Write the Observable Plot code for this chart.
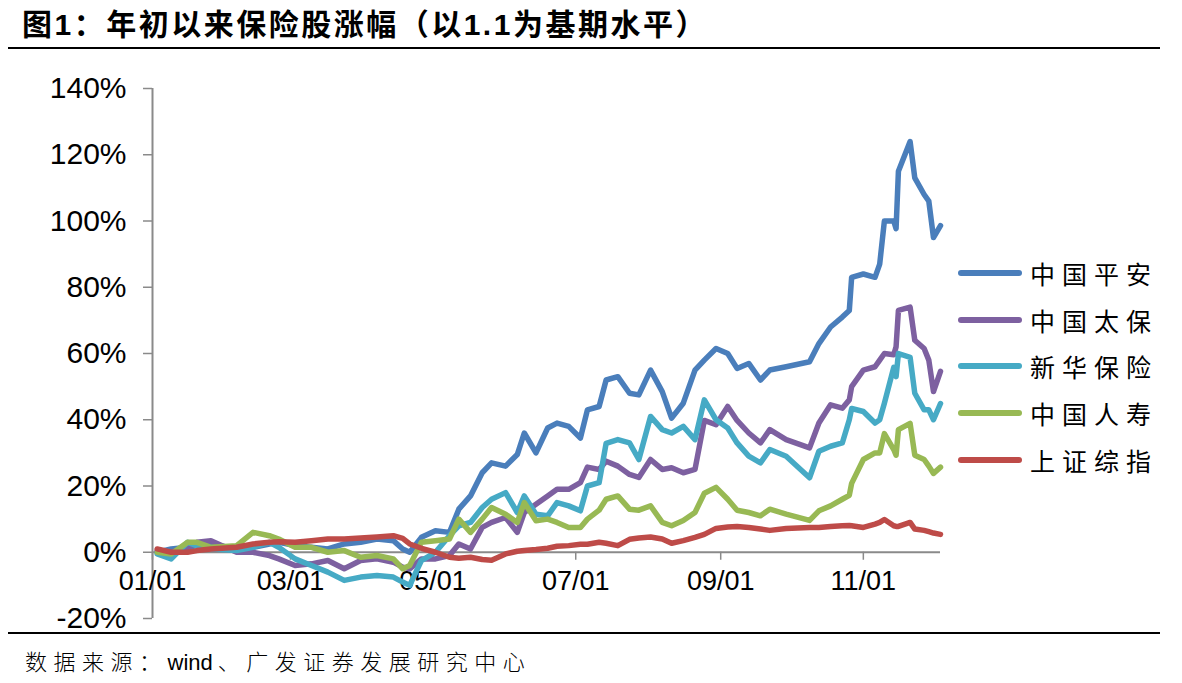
<!DOCTYPE html>
<html><head><meta charset="utf-8">
<script src="https://cdn.jsdelivr.net/npm/d3@7"></script>
<script src="https://cdn.jsdelivr.net/npm/@observablehq/plot@0.6"></script>
<style>
body{margin:0;background:#fff;width:1182px;height:683px;overflow:hidden;position:relative;font-family:"Liberation Sans","Noto Sans CJK SC",sans-serif;color:#000;}
#title{position:absolute;left:22px;top:10px;font-size:30px;line-height:30px;font-weight:bold;letter-spacing:2.5px;white-space:nowrap;}
.hr{position:absolute;left:8px;width:1152px;height:2px;background:#000;}
#chart{position:absolute;left:0;top:50px;}
#caption{position:absolute;left:25px;top:649px;font-size:22px;line-height:22px;letter-spacing:6.5px;white-space:nowrap;font-family:"Noto Sans CJK SC",sans-serif;font-weight:300;}
#caption .lat{font-family:"Liberation Sans";letter-spacing:0;margin-right:5px;font-weight:normal;}
.lg{position:absolute;left:958px;height:30px;display:flex;align-items:center;}
.lg .sw{width:64px;height:6px;border-radius:3px;}
.lg .tx{margin-left:8px;font-size:25px;letter-spacing:7px;font-family:"Noto Sans CJK SC",sans-serif;line-height:30px;}
</style></head>
<body>
<div id="title">图1：年初以来保险股涨幅（以1.1为基期水平）</div>
<div class="hr" style="top:47px"></div>
<div id="chart"></div>
<div class="hr" style="top:632px"></div>
<div id="caption">数据来源：<span class="lat">wind</span>、广发证券发展研究中心</div>
<div id="legend"></div>
<script>
const dates = ["01-03","01-09","01-16","01-20","01-26","02-06","02-13","02-20","02-24","03-03",
"03-10","03-17","03-24","03-31","04-07","04-14","04-18","04-21","04-26","05-02",
"05-08","05-12","05-17","05-22","05-26","06-01","06-06","06-09","06-14","06-19",
"06-23","06-28","07-03","07-06","07-11","07-14","07-19","07-24","07-28","08-02",
"08-07","08-11","08-16","08-21","08-25","08-30","09-04","09-08","09-13","09-18",
"09-22","09-29","10-09","10-13","10-18","10-23","10-26","10-27","11-01","11-06",
"11-08","11-10","11-14","11-15","11-16","11-21","11-23","11-27","11-29","12-01","12-04"];
const year = 2017;

const pingan = [0,1,1.5,2,2.5,1,1.5,2.5,3,2,
1.5,1,2.5,3,4,3.5,1,0,4.5,6.5,
6,13,17,24,27,26,29.5,36,30,37.5,
39,38,34.5,43,44,52,53,48,47.5,55,
48.5,40.5,45,55,58,61.5,60,55.5,57,52,
55,56,57.5,63,68,71,73,83,84,83,
87,100,100,97.7,115,124,113,108,106,95,98.6];
const taibao = [0.5,0,1.5,3,3.5,0,0,-1,-2,-4,
-3.5,-2.5,-5,-2.5,-2,-3,-4.5,-5,-2,-2,
-1,2.5,1,7.5,9,10.5,6,12,14.5,17,
19,19,21,25.7,25,27.5,26,23.5,22.6,28,
25,25.5,24,25,39.8,38.5,44,39.8,36,33,
37,34,31.5,39,44.5,43.5,46,50,55,56,
58,60,59.6,62,73,74,64,61.5,58,48.5,54.6];
const xinhua = [-0.5,-2,3,2,1,0.5,1.5,3,1.5,-2,
-4,-6,-8.5,-7.5,-7,-7.5,-9,-10,-2.5,0,
5,8,9,13.5,16,18,12,17,11.5,11,
15,14,12.5,20,21,32.9,34,33,28,41,
37,36,38,34,46,40,37.5,33,29,27,
31,29,22.5,30.5,32,33,40,43.4,42.5,39,
40,45,55.8,53,60,58.8,48,43,43,40,44.9];
const renshou = [0,-0.5,3,3,1.5,2,6,5,4,1.5,
1.5,0,0.5,-1.5,-1,-2,-5,-4,3,3.5,
4,10,6,10,13.5,11.5,9,15,9.5,10,
9,7.5,7.5,10,12.7,16,17,13,12.7,14,
9,8,9.6,12,17.8,19.6,16,12.7,12,11,
13,11.5,9.6,12.5,14,16,17.2,20.8,28,30,
30,35.8,31,29.3,37,38.9,29.3,28,26,23.8,25.7];
const shindex = [1,0,0,0.5,1,1.5,2.5,3,3.2,3,
3.5,4,4,4.3,4.6,5,4.2,2.5,1.2,0,
-1.5,-1.8,-1.5,-2.2,-2.4,-0.5,0.3,0.5,0.8,1.2,
1.8,2,2.4,2.4,3,2.7,2,3.9,4.3,4.6,
4,2.7,3.5,4.5,5.4,7.2,7.6,7.8,7.5,7,
6.6,7.2,7.5,7.5,7.8,8,8.1,8,7.5,8.5,
9,9.9,8,7.8,7.8,9,7,6.6,6.2,5.8,5.4];

const seriesNames = ["中国平安","中国太保","新华保险","中国人寿","上证综指"];
const seriesValues = [pingan, taibao, xinhua, renshou, shindex];
const seriesColors = ["#4A7EBB","#7D60A0","#46AAC5","#98B954","#BE4B48"];
const yTicks = [-20,0,20,40,60,80,100,120,140];
const xTickLabels = ["01/01","03/01","05/01","07/01","09/01","11/01"];
const xDomain = ["2017-01-01","2017-12-04"];

const parse = s => new Date(`${year}-${s}T00:00:00Z`);
const rows = [];
seriesNames.forEach((name, k) => {
  seriesValues[k].forEach((v, i) => rows.push({series: name, date: parse(dates[i]), value: v}));
});
const xTicks = xTickLabels.map(s => parse(s.replace("/", "-")));

const W = 1182, H = 600, mt = 38, mb = 32, ml = 152, mr = 242;
const yS = Plot.scale({y: {domain: [-20, 140], range: [H - mb, mt]}});
const tickEnd = yS.invert(yS.apply(0) + 8);
const gray = "#8a8a8a";

const chart = Plot.plot({
  width: W, height: H,
  marginTop: mt, marginBottom: mb, marginLeft: ml, marginRight: mr,
  style: {fontFamily: "Liberation Sans, Arial, sans-serif", color: "#000", background: "transparent"},
  x: {type: "utc", domain: xDomain.map(s => new Date(s + "T00:00:00Z")), axis: null},
  y: {domain: [-20, 140], axis: null},
  color: {domain: seriesNames, range: seriesColors},
  marks: [
    Plot.axisY({ticks: yTicks, tickSize: 9, tickPadding: 17, fontSize: 30, stroke: gray, strokeWidth: 1.5, tickFormat: d => d + "%", label: null}),
    Plot.ruleX([new Date(xDomain[0] + "T00:00:00Z")], {stroke: gray, strokeWidth: 2}),
    Plot.ruleY([0], {stroke: gray, strokeWidth: 2}),
    Plot.ruleX(xTicks, {x: d => d, y1: 0, y2: tickEnd, stroke: gray, strokeWidth: 1.5}),
    Plot.text(xTicks, {x: d => d, y: () => 0, dy: 29, text: (d, i) => xTickLabels[i], fontSize: 27, fill: "#000"}),
    Plot.line(rows, {x: "date", y: "value", z: "series", stroke: "series", strokeWidth: 5.5, strokeLinejoin: "round", strokeLinecap: "round"})
  ]
});
document.getElementById("chart").appendChild(chart);

const legendY = [273, 320, 366, 413, 460];
const lg = document.getElementById("legend");
seriesNames.forEach((name, k) => {
  const d = document.createElement("div");
  d.className = "lg";
  d.style.top = (legendY[k] - 15) + "px";
  d.innerHTML = `<div class="sw" style="background:${seriesColors[k]}"></div><div class="tx">${name}</div>`;
  lg.appendChild(d);
});
</script>
</body></html>
